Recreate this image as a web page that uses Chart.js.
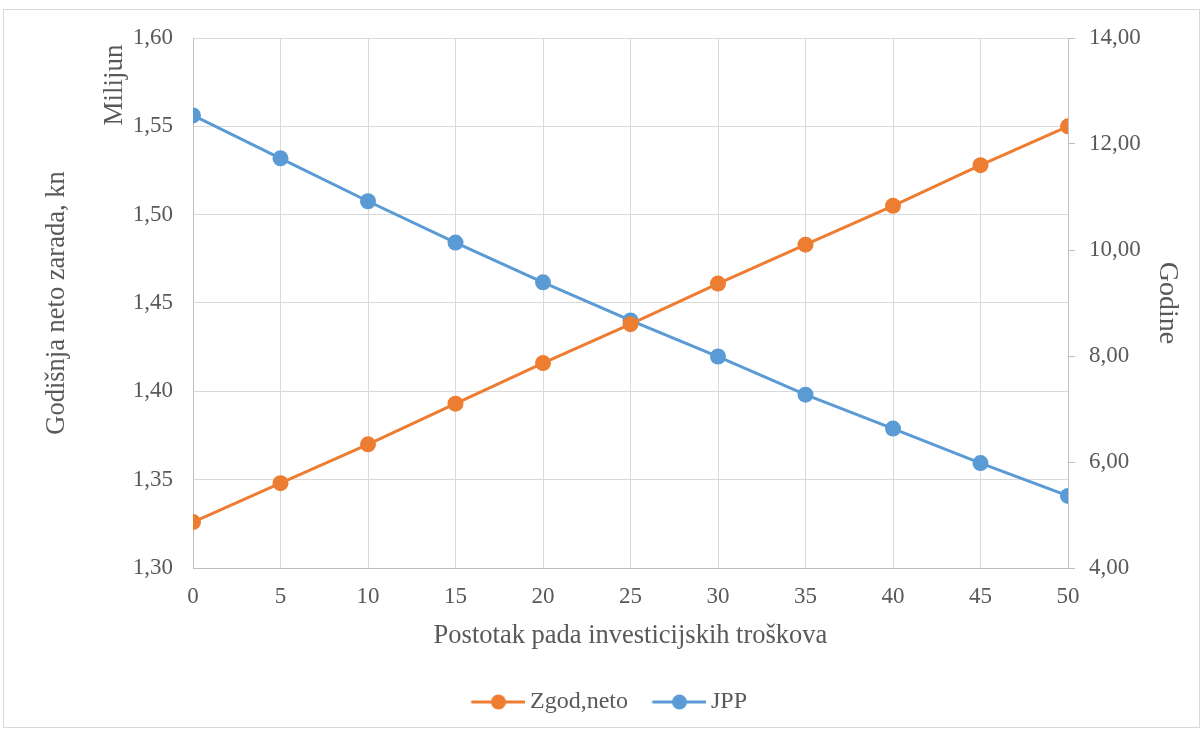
<!DOCTYPE html>
<html>
<head>
<meta charset="utf-8">
<script src="https://cdn.jsdelivr.net/npm/chart.js@4.4.0/dist/chart.umd.min.js"></script>
<style>
  html, body { margin: 0; padding: 0; background: #fff; }
  #wrap { width: 1204px; height: 732px; position: relative; }
</style>
</head>
<body>
<div id="wrap"><canvas id="c" width="1204" height="732"></canvas></div>
<script>
// podaci očitani sa slike
const postotak = [0, 5, 10, 15, 20, 25, 30, 35, 40, 45, 50];
const zgodNeto = [1.326, 1.348, 1.370, 1.393, 1.416, 1.438, 1.461, 1.483, 1.505, 1.528, 1.550];
const jpp      = [12.54, 11.73, 10.92, 10.14, 9.39, 8.67, 7.99, 7.27, 6.63, 5.98, 5.36];

const ORANGE = "#ED7D31";
const BLUE = "#5B9BD5";
const TXT = "#595959";
const FONT = "'Liberation Serif', 'Times New Roman', serif";

const fmt = (v, d) => v.toFixed(d).replace(".", ",");

// ikona legende: linija s kružićem (pomaknuta udesno da razmak do teksta bude manji)
function legendIcon(color) {
  const cv = document.createElement("canvas");
  cv.width = 76; cv.height = 18;
  const g = cv.getContext("2d");
  g.strokeStyle = color; g.lineWidth = 3; g.lineCap = "round";
  g.beginPath(); g.moveTo(23, 9); g.lineTo(75, 9); g.stroke();
  g.fillStyle = color;
  g.beginPath(); g.arc(49, 9, 7.5, 0, Math.PI * 2); g.fill();
  return cv;
}

// okvir + "Milijun"
const extras = {
  id: "extras",
  beforeDraw(chart) {
    const ctx = chart.ctx;
    ctx.save();
    ctx.fillStyle = "#fff";
    ctx.fillRect(0, 0, chart.width, chart.height);
    ctx.strokeStyle = "#D9D9D9";
    ctx.lineWidth = 1;
    ctx.strokeRect(3.5, 9.5, 1196, 718);
    ctx.restore();
  },
  afterDraw(chart) {
    const ctx = chart.ctx;
    ctx.save();
    ctx.translate(115, chart.chartArea.top + 47);
    ctx.rotate(-Math.PI / 2);
    ctx.fillStyle = TXT;
    ctx.font = "27px " + FONT;
    ctx.textAlign = "center";
    ctx.textBaseline = "middle";
    ctx.fillText("Milijun", 0, 0);
    ctx.restore();
  }
};

const lineDs = (label, data, color, axis) => ({
  label,
  data: postotak.map((x, i) => ({ x, y: data[i] })),
  yAxisID: axis,
  borderColor: color,
  backgroundColor: color,
  borderWidth: 3,
  pointRadius: 8,
  pointHoverRadius: 8,
  pointBorderWidth: 0,
  tension: 0
});

new Chart(document.getElementById("c").getContext("2d"), {
  type: "line",
  data: {
    datasets: [
      lineDs("Zgod,neto", zgodNeto, ORANGE, "y"),
      lineDs("JPP", jpp, BLUE, "y1")
    ]
  },
  options: {
    responsive: false,
    animation: false,
    layout: { padding: { top: 38, bottom: 8, left: 0, right: 0 } },
    plugins: {
      tooltip: { enabled: false },
      legend: {
        position: "bottom",
        labels: {
          usePointStyle: true,
          pointStyleWidth: 61,
          padding: 10,
          color: TXT,
          font: { family: FONT, size: 24 },
          generateLabels(chart) {
            return chart.data.datasets.map((ds, i) => ({
              text: ds.label,
              fillStyle: ds.borderColor,
              strokeStyle: ds.borderColor,
              lineWidth: 0,
              pointStyle: legendIcon(ds.borderColor),
              fontColor: TXT,
              hidden: false,
              datasetIndex: i
            }));
          }
        }
      }
    },
    scales: {
      x: {
        type: "linear",
        min: 0, max: 50,
        afterFit(s) { s.height = 112; },
        ticks: { stepSize: 5, padding: 15, color: TXT, font: { family: FONT, size: 23 } },
        grid: { color: "#D9D9D9", lineWidth: 1, drawTicks: false },
        border: { color: "#BFBFBF", width: 1 },
        title: {
          display: true,
          text: "Postotak pada investicijskih troškova",
          color: TXT,
          font: { family: FONT, size: 26.5 },
          padding: { top: 0, bottom: 28 }
        }
      },
      y: {
        position: "left",
        min: 1.30, max: 1.60,
        afterFit(s) { s.width = 193; },
        ticks: { stepSize: 0.05, padding: 20, color: TXT, font: { family: FONT, size: 23 },
          callback: v => fmt(v, 2) },
        grid: { color: "#D9D9D9", lineWidth: 1, drawTicks: false },
        border: { color: "#BFBFBF", width: 1 },
        title: {
          display: true,
          text: "Godišnja neto zarada, kn",
          color: TXT,
          font: { family: FONT, size: 26.5 },
          padding: { top: 41, bottom: 0 }
        }
      },
      y1: {
        position: "right",
        min: 4, max: 14,
        afterFit(s) { s.width = 136; },
        ticks: { stepSize: 2, padding: 14, color: TXT, font: { family: FONT, size: 23 },
          callback: v => fmt(v, 2) },
        grid: { drawOnChartArea: false, color: "#BFBFBF", tickLength: 7 },
        border: { color: "#BFBFBF", width: 1 },
        title: {
          display: true,
          text: "Godine",
          color: TXT,
          font: { family: FONT, size: 28 },
          padding: { top: 20, bottom: 0 }
        }
      }
    }
  },
  plugins: [extras]
});
</script>
</body>
</html>
